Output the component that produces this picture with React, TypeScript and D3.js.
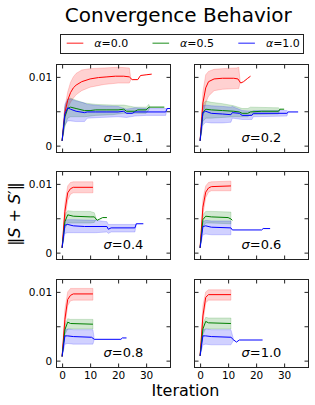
import * as d3 from 'd3';
import { useEffect, useRef } from 'react';

type Pt = [number, number];
type Band = [number, number, number];

const sigmaLabels = ['0.1', '0.2', '0.4', '0.6', '0.8', '1.0'];
const alphaLabels = ['0.0', '0.5', '1.0'];
const seriesColors = ['#ff0000', '#008000', '#0000ff'];
const xTickValues = [0, 10, 20, 30];
const yTickValues = [0, 0.005, 0.01];
const yTickText = ['0', '', '0.01'];

// sigma = 0.1
const s01RedMean: Pt[] = [[0, 0.0007], [1, 0.0048], [2, 0.0066], [3, 0.0077], [4, 0.0084], [5, 0.0088], [7, 0.0093], [10, 0.0097], [13, 0.0099], [16, 0.01], [19, 0.0101], [22, 0.0101], [24, 0.01], [25, 0.0096], [27, 0.0096], [28, 0.0102], [30, 0.0103], [32, 0.0104]];
const s01RedBand: Band[] = [[0, 0.0007, 0.0007], [1, 0.004, 0.0056], [2, 0.0054, 0.0078], [3, 0.0063, 0.0092], [4, 0.0069, 0.01], [5, 0.0074, 0.0105], [7, 0.008, 0.011], [10, 0.0085, 0.0112], [15, 0.0089, 0.0113], [20, 0.0091, 0.0114], [24, 0.0091, 0.0113], [24.6, 0.0096, 0.0096]];
const s01GreenMean: Pt[] = [[0, 0.0007], [1, 0.0042], [2, 0.0054], [3, 0.0056], [5, 0.0054], [8, 0.0051], [10, 0.0051], [12, 0.0052], [16, 0.0052], [20, 0.0052], [22, 0.0053], [23, 0.005], [26, 0.005], [27, 0.0052], [30, 0.0052], [31, 0.0056], [36.5, 0.0056]];
const s01GreenBand: Band[] = [[0, 0.0007, 0.0007], [1, 0.0028, 0.0056], [2, 0.004, 0.0067], [3, 0.0042, 0.0069], [5, 0.0042, 0.0066], [8, 0.0042, 0.0062], [12, 0.0044, 0.006], [18, 0.0045, 0.0059], [22, 0.0047, 0.0059], [26, 0.0047, 0.0056], [30, 0.0047, 0.0056], [31, 0.0052, 0.006], [31.3, 0.0056, 0.0056]];
const s01BlueMean: Pt[] = [[0, 0.0007], [1, 0.0046], [2, 0.0055], [3, 0.0053], [5, 0.005], [8, 0.0048], [9, 0.0049], [12, 0.0049], [16, 0.0049], [20, 0.0049], [22, 0.005], [23, 0.0047], [25, 0.0047], [26, 0.0049], [30, 0.0049], [37, 0.0049], [37.5, 0.0054], [38.7, 0.0054]];
const s01BlueBand: Band[] = [[0, 0.0007, 0.0007], [1, 0.003, 0.006], [2, 0.0036, 0.0068], [3, 0.0036, 0.0068], [5, 0.0035, 0.0065], [8, 0.0035, 0.0062], [9, 0.004, 0.006], [14, 0.0041, 0.0058], [20, 0.0042, 0.0057], [23, 0.0041, 0.0053], [26, 0.0043, 0.0055], [30, 0.0044, 0.0054], [37, 0.0044, 0.0054], [37.5, 0.0054, 0.0054]];

// sigma = 0.2
const s02RedMean: Pt[] = [[0, 0.0007], [1, 0.0062], [2, 0.0084], [3, 0.0093], [5, 0.0097], [8, 0.0098], [12, 0.0098], [13.5, 0.0097], [14.5, 0.0091], [15.5, 0.0093], [17, 0.0098], [18, 0.0101]];
const s02RedBand: Band[] = [[0, 0.0007, 0.0007], [1, 0.0045, 0.0078], [2, 0.0062, 0.0103], [3, 0.0072, 0.0108], [5, 0.008, 0.0111], [8, 0.0082, 0.0112], [13, 0.0083, 0.0113], [13.8, 0.0083, 0.0114], [14.3, 0.0093, 0.0093]];
const s02GreenMean: Pt[] = [[0, 0.0007], [1, 0.0048], [2, 0.0053], [4, 0.0052], [8, 0.0051], [12, 0.005], [14, 0.0049], [15, 0.0047], [17, 0.0047], [18, 0.0049], [22, 0.005], [28, 0.005], [28.5, 0.0053], [30, 0.0053]];
const s02GreenBand: Band[] = [[0, 0.0007, 0.0007], [1, 0.0035, 0.006], [2, 0.004, 0.0065], [4, 0.004, 0.0063], [8, 0.0041, 0.0061], [12, 0.0042, 0.0058], [15, 0.0042, 0.0054], [17, 0.0042, 0.0054], [18, 0.0045, 0.0056], [28, 0.0046, 0.0055], [28.5, 0.0053, 0.0053]];
const s02BlueMean: Pt[] = [[0, 0.0007], [1, 0.0048], [2, 0.005], [4, 0.0047], [8, 0.0046], [11, 0.0045], [11.5, 0.0048], [14, 0.0047], [15, 0.0044], [18.5, 0.0044], [19, 0.0047], [31, 0.0047], [31.5, 0.0049], [35, 0.0049]];
const s02BlueBand: Band[] = [[0, 0.0007, 0.0007], [1, 0.003, 0.0058], [2, 0.0034, 0.0059], [4, 0.0033, 0.0058], [8, 0.0033, 0.0057], [11, 0.0034, 0.0056], [11.5, 0.004, 0.0057], [15, 0.0038, 0.0051], [18.5, 0.0038, 0.005], [19, 0.0042, 0.0051], [31, 0.0043, 0.0051], [31.5, 0.0049, 0.0049]];

// sigma = 0.4
const s04RedMean: Pt[] = [[0, 0.0007], [1, 0.006], [2, 0.0087], [3, 0.0093], [4, 0.0095], [11, 0.0095]];
const s04RedBand: Band[] = [[0, 0.0007, 0.0007], [1, 0.0048, 0.0072], [2, 0.0076, 0.0097], [3, 0.0085, 0.0102], [4, 0.0087, 0.0103], [11, 0.0087, 0.0103]];
const s04GreenMean: Pt[] = [[0, 0.0007], [1, 0.0045], [2, 0.0055], [4, 0.0053], [10, 0.0052], [11.5, 0.0052], [12.5, 0.0047], [13.5, 0.0049], [14.5, 0.0051], [16, 0.0051]];
const s04GreenBand: Band[] = [[0, 0.0007, 0.0007], [1, 0.0035, 0.0055], [2, 0.0043, 0.0061], [4, 0.0043, 0.006], [10, 0.0043, 0.006], [11.5, 0.0044, 0.0058], [12.2, 0.0049, 0.0049]];
const s04BlueMean: Pt[] = [[0, 0.0007], [1, 0.004], [2, 0.0041], [4, 0.0039], [8, 0.0038], [16, 0.0038], [16.5, 0.0034], [17.5, 0.0036], [26, 0.0036], [26.5, 0.0042], [29, 0.0042]];
const s04BlueBand: Band[] = [[0, 0.0007, 0.0007], [1, 0.0028, 0.0047], [2, 0.0029, 0.0048], [4, 0.0029, 0.0048], [12, 0.0029, 0.0047], [16, 0.003, 0.0045], [16.5, 0.0028, 0.0041], [17.5, 0.003, 0.0041], [26, 0.003, 0.0041], [26.5, 0.0042, 0.0042]];

// sigma = 0.6
const s06RedMean: Pt[] = [[0, 0.0007], [1, 0.0066], [2, 0.0088], [3, 0.0094], [4, 0.0096], [11, 0.0097]];
const s06RedBand: Band[] = [[0, 0.0007, 0.0007], [1, 0.0055, 0.0078], [2, 0.008, 0.0097], [3, 0.0088, 0.0102], [4, 0.009, 0.0103], [11, 0.009, 0.0104]];
const s06GreenMean: Pt[] = [[0, 0.0007], [1, 0.0048], [2, 0.0053], [4, 0.0052], [10, 0.0051], [11, 0.0049], [11.5, 0.0047]];
const s06GreenBand: Band[] = [[0, 0.0007, 0.0007], [1, 0.0038, 0.0055], [2, 0.0043, 0.006], [4, 0.0043, 0.006], [11, 0.0042, 0.0059]];
const s06BlueMean: Pt[] = [[0, 0.0007], [1, 0.0038], [2, 0.0039], [4, 0.0037], [11, 0.0036], [11.5, 0.0033], [22, 0.0033], [22.5, 0.0035], [25, 0.0035]];
const s06BlueBand: Band[] = [[0, 0.0007, 0.0007], [1, 0.0026, 0.0045], [2, 0.0027, 0.0047], [4, 0.0026, 0.0046], [11, 0.0026, 0.0046]];

// sigma = 0.8
const s08RedMean: Pt[] = [[0, 0.0006], [1, 0.006], [2, 0.0089], [3, 0.0095], [4, 0.0097], [11, 0.0097]];
const s08RedBand: Band[] = [[0, 0.0006, 0.0006], [1, 0.005, 0.0075], [2, 0.008, 0.01], [3, 0.0087, 0.0105], [4, 0.0088, 0.0105], [11, 0.0088, 0.0105]];
const s08GreenMean: Pt[] = [[0, 0.0006], [1, 0.0045], [2, 0.0056], [3, 0.0054], [11, 0.0053]];
const s08GreenBand: Band[] = [[0, 0.0006, 0.0006], [1, 0.0038, 0.0052], [2, 0.0046, 0.0061], [3, 0.0046, 0.006], [11, 0.0046, 0.006]];
const s08BlueMean: Pt[] = [[0, 0.0006], [1, 0.0036], [2, 0.0036], [4, 0.0035], [10.5, 0.0034], [11.5, 0.0031], [21, 0.0031], [21.5, 0.0033], [23, 0.0033]];
const s08BlueBand: Band[] = [[0, 0.0006, 0.0006], [1, 0.0024, 0.0045], [2, 0.0025, 0.0046], [4, 0.0024, 0.0045], [11, 0.0024, 0.0045], [11.5, 0.0031, 0.0031]];

// sigma = 1.0
const s10RedMean: Pt[] = [[0, 0.0007], [1, 0.0065], [2, 0.0092], [3, 0.0096], [11, 0.0096]];
const s10RedBand: Band[] = [[0, 0.0007, 0.0007], [1, 0.0055, 0.008], [2, 0.0084, 0.01], [3, 0.0088, 0.0103], [11, 0.0088, 0.0103]];
const s10GreenMean: Pt[] = [[0, 0.0007], [1, 0.0046], [2, 0.0057], [3, 0.0055], [11, 0.0054]];
const s10GreenBand: Band[] = [[0, 0.0007, 0.0007], [1, 0.0038, 0.0054], [2, 0.0047, 0.0063], [3, 0.0046, 0.0062], [11, 0.0046, 0.0062]];
const s10BlueMean: Pt[] = [[0, 0.0007], [1, 0.0036], [2, 0.0036], [4, 0.0035], [11, 0.0034], [12, 0.003], [13, 0.0027], [14, 0.003], [22.3, 0.003]];
const s10BlueBand: Band[] = [[0, 0.0007, 0.0007], [1, 0.0023, 0.0045], [2, 0.0024, 0.0046], [4, 0.0023, 0.0045], [11, 0.0023, 0.0045], [12, 0.003, 0.003]];

const panelMeans = [
  [s01RedMean, s01GreenMean, s01BlueMean],
  [s02RedMean, s02GreenMean, s02BlueMean],
  [s04RedMean, s04GreenMean, s04BlueMean],
  [s06RedMean, s06GreenMean, s06BlueMean],
  [s08RedMean, s08GreenMean, s08BlueMean],
  [s10RedMean, s10GreenMean, s10BlueMean],
];
const panelBands = [
  [s01RedBand, s01GreenBand, s01BlueBand],
  [s02RedBand, s02GreenBand, s02BlueBand],
  [s04RedBand, s04GreenBand, s04BlueBand],
  [s06RedBand, s06GreenBand, s06BlueBand],
  [s08RedBand, s08GreenBand, s08BlueBand],
  [s10RedBand, s10GreenBand, s10BlueBand],
];

export default function App() {
  const ref = useRef<SVGSVGElement | null>(null);

  useEffect(() => {
    const svg = d3.select(ref.current);
    svg.selectAll('*').remove();

    const font = 'DejaVu Sans';
    const colLeft = [56.5, 194.5];
    const rowTop = [64.5, 171.5, 279.5];
    const w = 114;
    const h = 88;

    const x = d3.scaleLinear().domain([-2, 38.7]).range([0, w]);
    const y = d3.scaleLinear().domain([-0.001, 0.0118]).range([h, 0]);

    const line = d3.line<Pt>().x(d => x(d[0])).y(d => y(d[1]));
    const area = d3.area<Band>().x(d => x(d[0])).y0(d => y(d[1])).y1(d => y(d[2]));

    // title
    svg.append('text')
      .attr('x', 178.3).attr('y', 21.7)
      .attr('text-anchor', 'middle')
      .attr('font-family', font).attr('font-size', 20)
      .text('Convergence Behavior');

    // legend
    const leg = svg.append('g');
    leg.append('rect')
      .attr('x', 60.5).attr('y', 34.5).attr('width', 243).attr('height', 19)
      .attr('fill', 'white').attr('stroke', '#222').attr('stroke-width', 1);
    alphaLabels.forEach((a, i) => {
      const ox = 66.7 + i * 85.8;
      leg.append('rect')
        .attr('x', ox).attr('y', 42.6).attr('width', 16.6).attr('height', 1.2)
        .attr('fill', seriesColors[i]).attr('fill-opacity', 0.75);
      const t = leg.append('text')
        .attr('x', ox + 27.6).attr('y', 47.3)
        .attr('font-family', font).attr('font-size', 11);
      t.append('tspan').attr('font-style', 'italic').text('α');
      t.append('tspan').text('=' + a);
    });

    sigmaLabels.forEach((s, i) => {
      const col = i % 2;
      const row = Math.floor(i / 2);
      const g = svg.append('g').attr('transform', `translate(${colLeft[col]},${rowTop[row]})`);

      g.append('clipPath').attr('id', `clip${i}`)
        .append('rect').attr('width', w).attr('height', h);
      const plot = g.append('g').attr('clip-path', `url(#clip${i})`);

      seriesColors.forEach((c, k) => {
        plot.append('path')
          .datum(panelBands[i][k])
          .attr('d', area)
          .attr('fill', c).attr('fill-opacity', 0.18)
          .attr('stroke', c).attr('stroke-opacity', 0.22).attr('stroke-width', 0.8);
      });
      seriesColors.forEach((c, k) => {
        plot.append('path')
          .datum(panelMeans[i][k])
          .attr('d', line)
          .attr('fill', 'none')
          .attr('stroke', c).attr('stroke-width', 1);
      });

      const axes = [
        { ax: d3.axisLeft(y).tickValues(yTickValues).tickFormat((_, j) => (col === 0 ? yTickText[j] : '')), t: '0,0' },
        { ax: d3.axisRight(y).tickValues(yTickValues).tickFormat(() => ''), t: `${w},0` },
        { ax: d3.axisTop(x).tickValues(xTickValues).tickFormat(() => ''), t: '0,0' },
        { ax: d3.axisBottom(x).tickValues(xTickValues).tickFormat(d => (row === 2 ? String(d) : '')), t: `0,${h}` },
      ];
      axes.forEach(a => {
        const ag = g.append('g')
          .attr('transform', `translate(${a.t})`)
          .call(a.ax.tickSize(-4).tickPadding(4.3) as any);
        ag.select('.domain').remove();
        ag.attr('font-family', font).attr('font-size', 10.5);
        ag.selectAll('line').attr('stroke', '#222');
        ag.selectAll('text').attr('fill', '#000');
      });

      g.append('rect')
        .attr('width', w).attr('height', h)
        .attr('fill', 'none').attr('stroke', '#222').attr('stroke-width', 1);

      const lab = g.append('text')
        .attr('x', 47).attr('y', h - 10.5)
        .attr('font-family', font).attr('font-size', 13);
      lab.append('tspan').attr('font-style', 'italic').text('σ');
      lab.append('tspan').text('=' + s);
    });

    // axis titles
    svg.append('text')
      .attr('x', 185.5).attr('y', 395.5)
      .attr('text-anchor', 'middle')
      .attr('font-family', font).attr('font-size', 16)
      .text('Iteration');

    const yl = svg.append('text')
      .attr('transform', 'translate(19.5,214) rotate(-90)')
      .attr('text-anchor', 'middle')
      .attr('font-family', font).attr('font-size', 16);
    yl.append('tspan').text('‖');
    yl.append('tspan').attr('font-style', 'italic').text('S');
    yl.append('tspan').text(' + ');
    yl.append('tspan').attr('font-style', 'italic').text('S');
    yl.append('tspan').text('′‖');
  }, []);

  return (
    <svg ref={ref} width={315} height={405}
      style={{ position: 'absolute', left: 0, top: 0, background: 'white' }} />
  );
}
